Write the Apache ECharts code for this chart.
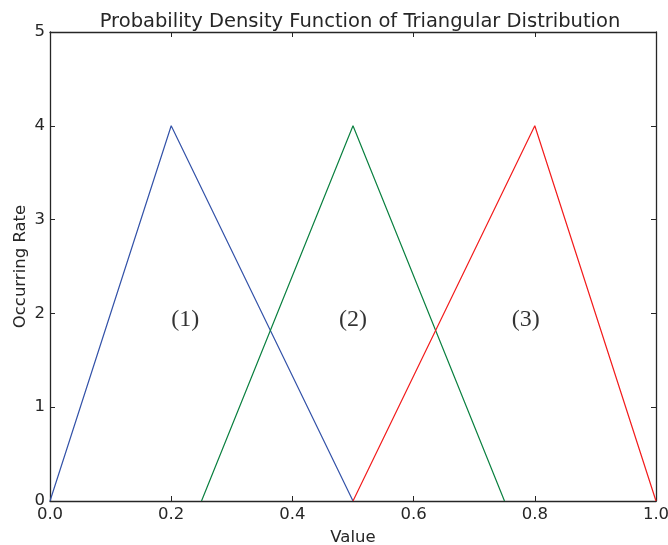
<!DOCTYPE html>
<html>
<head>
<meta charset="utf-8">
<style>
  html, body { margin: 0; padding: 0; background: #fff; }
  #main { width: 668px; height: 545px; }
</style>
<script src="https://cdn.jsdelivr.net/npm/echarts@6/dist/echarts.min.js"></script>
</head>
<body>
<div id="main"></div>
<script>
// triangular pdfs: [x, y] corner points
var tri1 = [[0, 0], [0.2, 4], [0.5, 0]];
var tri2 = [[0.25, 0], [0.5, 4], [0.75, 0]];
var tri3 = [[0.5, 0], [0.8, 4], [1.0, 0]];
// region labels
var labelNames = ['(1)', '(2)', '(3)'];
var labelPos = [[0.223, 1.93], [0.5, 1.93], [0.785, 1.93]];

var xTicks = ['0.0', '0.2', '0.4', '0.6', '0.8', '1.0'];

var chart = echarts.init(document.getElementById('main'));

var axisCol = '#262626';
var tickCol = '#262626';

var option = {
  backgroundColor: '#fff',
  animation: false,
  title: {
    text: 'Probability Density Function of Triangular Distribution',
    left: 355,
    textAlign: 'center',
    top: 7,
    textStyle: { fontFamily: 'DejaVu Sans', fontSize: 19.5, fontWeight: 'normal', color: '#262626' }
  },
  grid: { left: 50, right: 12, top: 32, bottom: 44, outerBoundsMode: 'none', containLabel: false },
  xAxis: [{
    type: 'value', min: 0, max: 1, interval: 0.2,
    name: 'Value', nameLocation: 'middle', nameGap: 28, nameMoveOverlap: false,
    nameTextStyle: { fontFamily: 'DejaVu Sans', fontSize: 16.5, color: '#262626' },
    axisLine: { onZero: false, lineStyle: { color: axisCol, width: 1.3 } },
    axisTick: { inside: true, length: 5, lineStyle: { color: tickCol } },
    axisLabel: {
      fontFamily: 'DejaVu Sans', fontSize: 16.5, color: '#262626', margin: 5,
      formatter: function (v) { return xTicks[Math.round(v / 0.2)]; }
    },
    splitLine: { show: false }
  }, {
    type: 'value', min: 0, max: 1, interval: 0.2, position: 'top',
    axisLine: { onZero: false, lineStyle: { color: axisCol, width: 1.3 } },
    axisTick: { inside: true, length: 5, lineStyle: { color: tickCol } },
    axisLabel: { show: false },
    splitLine: { show: false }
  }],
  yAxis: [{
    type: 'value', min: 0, max: 5, interval: 1,
    name: 'Occurring Rate', nameLocation: 'middle', nameGap: 21, nameMoveOverlap: false,
    nameTextStyle: { fontFamily: 'DejaVu Sans', fontSize: 16.5, color: '#262626' },
    axisLine: { show: true, onZero: false, lineStyle: { color: axisCol, width: 1.3 } },
    axisTick: { show: true, inside: true, length: 5, lineStyle: { color: tickCol } },
    axisLabel: { fontFamily: 'DejaVu Sans', fontSize: 16.5, color: '#262626', margin: 5 },
    splitLine: { show: false }
  }, {
    type: 'value', min: 0, max: 5, interval: 1, position: 'right',
    axisLine: { show: true, onZero: false, lineStyle: { color: axisCol, width: 1.3 } },
    axisTick: { show: true, inside: true, length: 5, lineStyle: { color: tickCol } },
    axisLabel: { show: false },
    splitLine: { show: false }
  }],
  series: [
    { type: 'line', data: tri1, symbol: 'none', lineStyle: { color: '#3352a8', width: 1.2 } },
    { type: 'line', data: tri2, symbol: 'none', lineStyle: { color: '#0b8040', width: 1.2 } },
    { type: 'line', data: tri3, symbol: 'none', lineStyle: { color: '#f21c1c', width: 1.2 } },
    {
      type: 'scatter', symbolSize: 0,
      data: labelPos.map(function (p, i) { return { value: p, name: labelNames[i] }; }),
      label: {
        show: true, position: 'inside', formatter: '{b}',
        fontFamily: 'Liberation Serif', fontSize: 24, color: '#000'
      }
    }
  ]
};

chart.setOption(option);
</script>
</body>
</html>
